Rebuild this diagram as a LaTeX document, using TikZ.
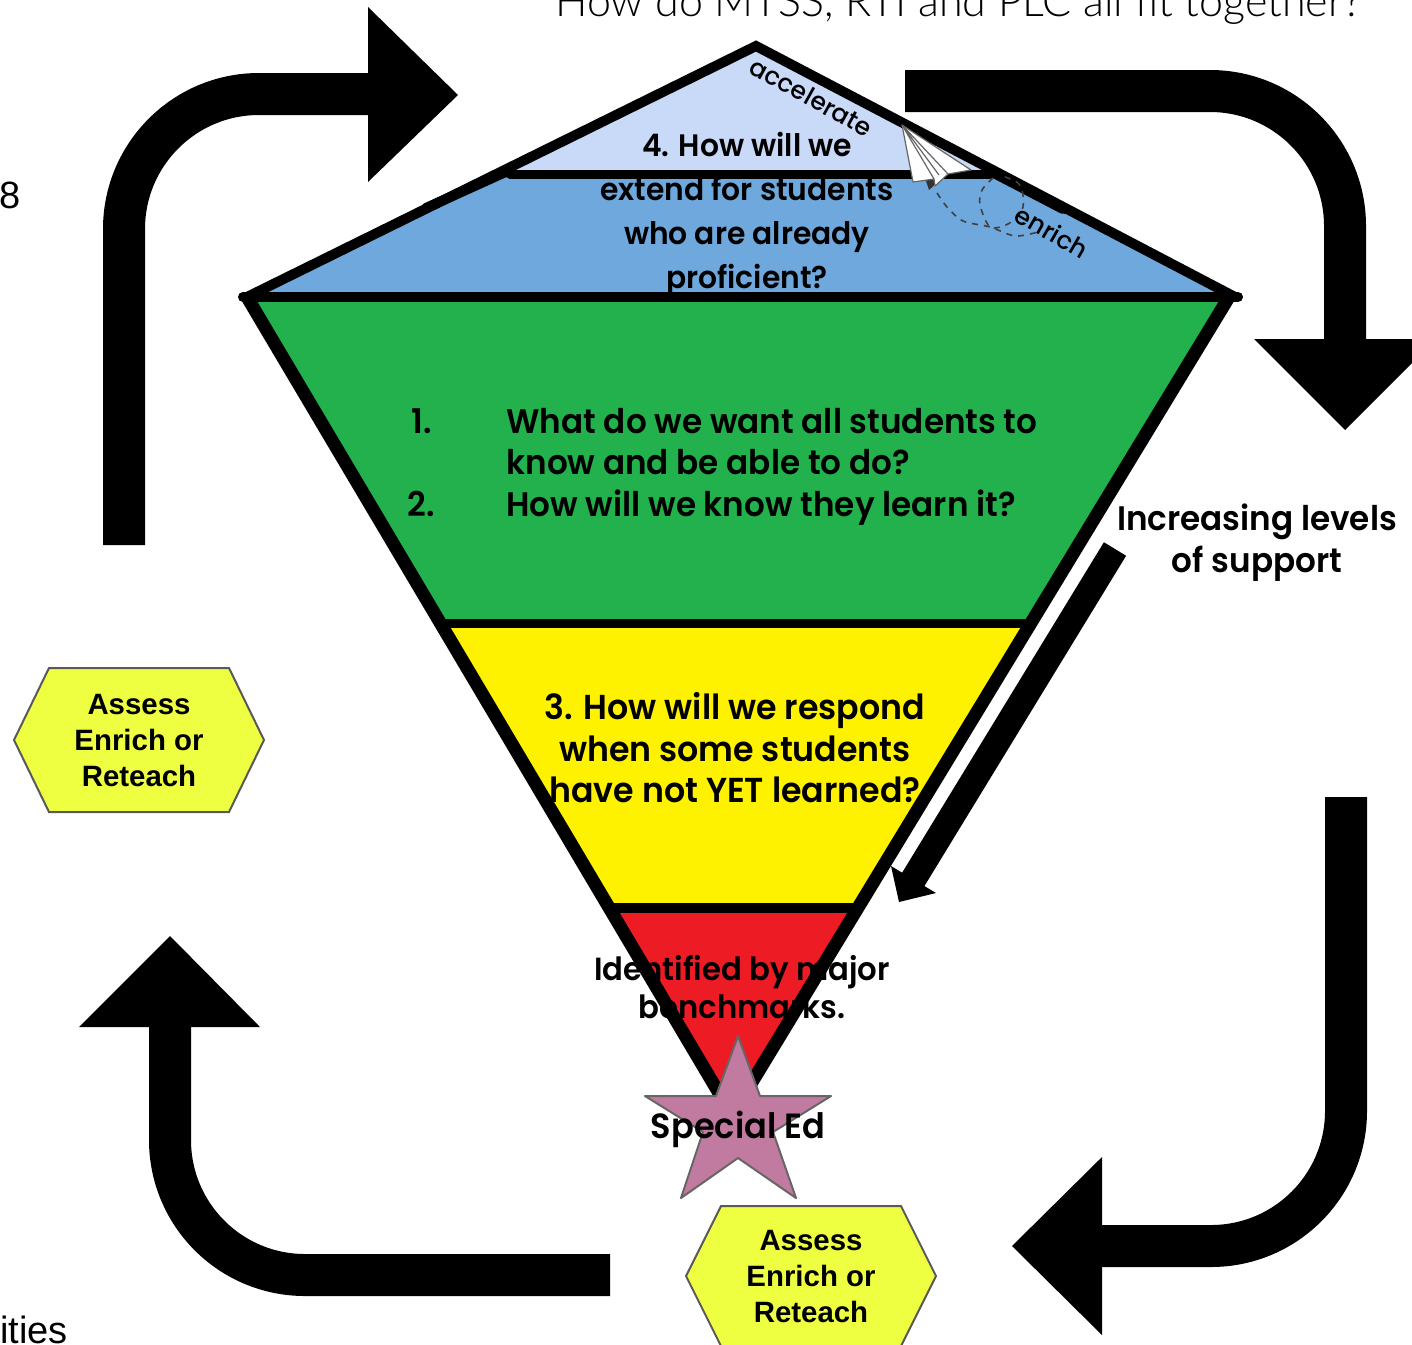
\documentclass[tikz,border=0pt]{standalone}
\usepackage{fontspec}
\setmainfont{Poppins SemiBold}[FakeStretch=0.96]
\newfontfamily\slimfont{Poppins Medium}
\newfontfamily\plainfont{Liberation Sans}
\newfontfamily\thinfont{Lato Light}
\definecolor{topblue}{HTML}{C9DAF8}
\definecolor{midblue}{HTML}{6FA8DC}
\definecolor{midgreen}{HTML}{22B14C}
\definecolor{midyellow}{HTML}{FFF200}
\definecolor{midred}{HTML}{ED1C24}
\definecolor{hexyellow}{HTML}{EEFF41}
\definecolor{starpink}{HTML}{C27BA0}
\tikzset{
  bigline/.style={draw=black,line width=21pt,rounded corners=67.5pt},
  outline/.style={draw=black,line width=5pt,line cap=round},
  crossline/.style={draw=black,line width=4.5pt,line cap=round},
  kitetext/.style={font=\fontsize{#1}{#1}\selectfont,anchor=base,inner sep=0pt},
  kitetext/.default=17,
  edgetext/.style={font=\slimfont\fontsize{12.5}{12.5}\selectfont,anchor=base,inner sep=0pt},
  hexshape/.style={draw=black!65,fill=hexyellow,line width=1pt},
  hextext/.style={font=\plainfont\bfseries\fontsize{14.7}{18}\selectfont,align=center,inner sep=0pt},
  loose/.style={font=\plainfont\fontsize{19}{19}\selectfont,anchor=base west,inner sep=0pt}
}
\begin{document}
\begin{tikzpicture}[x=0.5pt,y=-0.5pt]
\useasboundingbox (0,0) rectangle (1412,1344);
\clip (0,0) rectangle (1412,1344);
\fill[topblue] (756,46) -- (1000,172) -- (505,172) -- cycle;
\fill[midblue] (505,172) -- (1000,172) -- (1235,297) -- (247,297) -- cycle;
\fill[midgreen] (247,298) -- (1229,298) -- (1031,622) -- (440,622) -- cycle;
\fill[midyellow] (440,622) -- (1031,622) -- (860,908) -- (610,908) -- cycle;
\fill[midred] (610,908) -- (860,908) -- (732,1115) -- cycle;
\draw[outline] (243,297) -- (1238,297);
\draw[outline] (247,297) -- (756,46) -- (1235,297);
\draw[outline] (426,208) -- (510,170);
\draw[outline] (990,171) -- (1063,209);
\draw[crossline] (510,174) -- (990,174);
\draw[crossline] (440,623) -- (1031,623);
\draw[line width=5pt] (610,908) -- (860,908);
\draw[line width=6.5pt] (247,297) -- (732,1115) -- (1229,297);
\coordinate (tlstart) at (124,545);
\coordinate (tlcorner) at (124,94);
\coordinate (tlend) at (370,94);
\draw[bigline] (tlstart) -- (tlcorner) -- (tlend);
\fill (368,7) -- (458,95) -- (368,182) -- cycle;
\coordinate (trstart) at (905,91);
\coordinate (trcorner) at (1345,91);
\coordinate (trend) at (1345,341);
\draw[bigline] (trstart) -- (trcorner) -- (trend);
\fill (1254,339) -- (1436,339) -- (1345,430) -- cycle;
\coordinate (brstart) at (1346,797);
\coordinate (brcorner) at (1346,1246);
\coordinate (brend) at (1100,1246);
\draw[bigline] (brstart) -- (brcorner) -- (brend);
\fill (1102,1157) -- (1012,1246) -- (1102,1335) -- cycle;
\coordinate (blstart) at (610,1275);
\coordinate (blcorner) at (170,1275);
\coordinate (blend) at (170,1025);
\draw[bigline] (blstart) -- (blcorner) -- (blend);
\fill (79,1027) -- (260,1027) -- (170,936) -- cycle;
\coordinate (supportstart) at (1115,549);
\coordinate (supportend) at (908,888);
\draw[line width=13pt] (supportstart) -- (supportend);
\fill (891,866) -- (936,893) -- (899,902) -- cycle;
\fill[black!80] (925,178) -- (929,190) -- (940,180) -- cycle;
\draw[draw=black!60,fill=white,line width=.6pt,line join=round] (902,125) -- (971,170) -- (948,174) -- (935,186) -- (934,179) -- (913,182) -- cycle;
\draw[draw=black!60,line width=.6pt] (902,125) -- (934,179) (902,125) -- (939,175) (902,125) -- (948,174);
\draw[black!75,dashed,line width=.8pt] plot[smooth] coordinates {(937,193) (947,207) (963,221) (990,227) (1015,236) (1038,232)};
\draw[black!75,dashed,line width=.8pt] plot[smooth] coordinates {(993,178) (982,190) (980,205) (990,227) (1008,224) (1022,210) (1023,195) (1018,183) (1000,175)};
\node[edgetext,rotate=-29] (accelerate) at (807,105) {accelerate};
\node[edgetext,rotate=-30] (enrich) at (1047,240) {enrich};
\node[kitetext=15.5] (extenda) at (747,156) {4. How will we};
\node[kitetext=15.5] (extendb) at (747,200) {extend for students};
\node[kitetext=15.5] (extendc) at (747,244) {who are already};
\node[kitetext=15.5] (extendd) at (747,288) {proficient?};
\node[kitetext] (numa) at (422,433) {1.};
\node[kitetext] (numb) at (421,516) {2.};
\node[kitetext,anchor=base west] (wanta) at (506,433) {What do we want all students to};
\node[kitetext,anchor=base west] (wantb) at (506,474) {know and be able to do?};
\node[kitetext,anchor=base west] (wantc) at (506,516) {How will we know they learn it?};
\node[kitetext=17.3] (respa) at (735,719) {3. How will we respond};
\node[kitetext=17.3] (respb) at (735,761) {when some students};
\node[kitetext=17.3] (respc) at (735,802) {have not YET learned?};
\node[kitetext=16] (identa) at (742,980) {Identified by major};
\node[kitetext=16] (identb) at (742,1018) {benchmarks.};
\draw[draw=black!60,fill=starpink,line width=1pt,line join=round] (738,1036) -- (760,1096) -- (831,1096) -- (773,1132) -- (796,1198) -- (738,1158) -- (681,1198) -- (703,1132) -- (645,1096) -- (716,1096) -- cycle;
\node[kitetext=17.5] (specialed) at (738,1138) {Special Ed};
\node[kitetext] (supporta) at (1257,530) {Increasing levels};
\node[kitetext] (supportb) at (1257,572) {of support};
\foreach \hx/\hy/\hh/\hn in {139/740/72/left,811/1276/70/bottom}{
  \draw[hexshape] (\hx-125,\hy) -- (\hx-90,\hy-\hh) -- (\hx+90,\hy-\hh) -- (\hx+125,\hy) -- (\hx+90,\hy+\hh) -- (\hx-90,\hy+\hh) -- cycle;
  \node[hextext] (assess\hn) at (\hx,\hy+1) {Assess\\Enrich or\\Reteach};
}
\node[kitetext,font=\thinfont\fontsize{21.5}{21.5}\selectfont,anchor=base west] (title) at (555,16) {How do MTSS, RTI and PLC all fit together?};
\node[loose] (cuta) at (-1,208) {8};
\node[loose] (cutb) at (0,1343) {ities};
\end{tikzpicture}
\end{document}
